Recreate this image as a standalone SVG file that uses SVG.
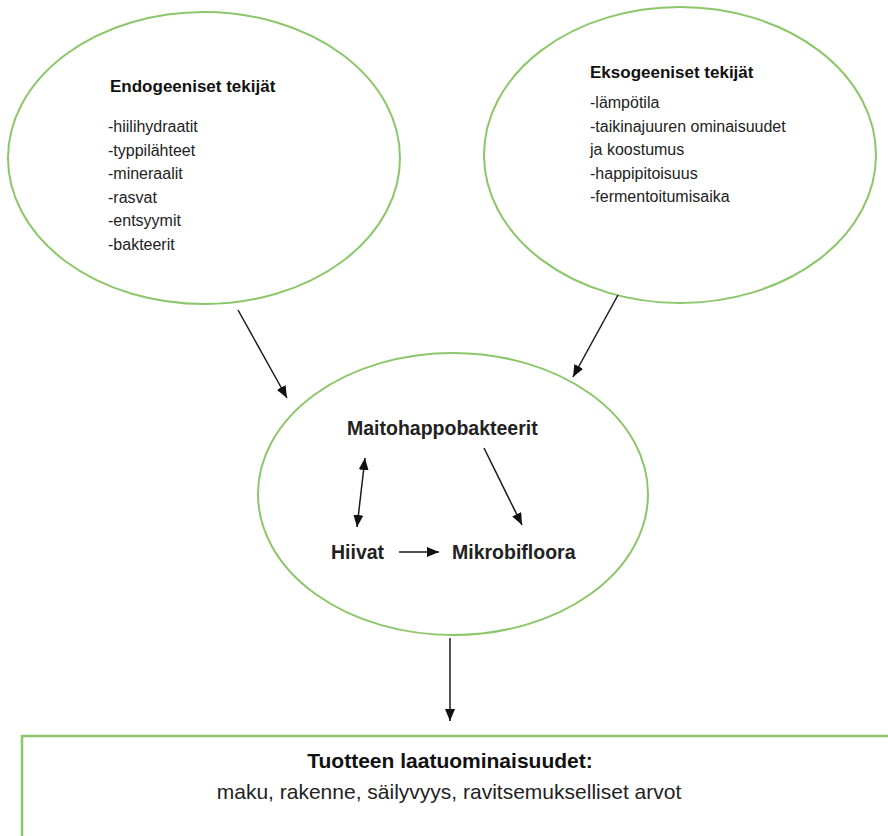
<svg xmlns="http://www.w3.org/2000/svg" width="888" height="836" viewBox="0 0 888 836">
<defs>
<style>
.oval{fill:#ffffff;stroke:#8cc66a;stroke-width:2}
.box{fill:#ffffff;stroke:#8cc66a;stroke-width:2.5}
.con{stroke:#1a1a1a;stroke-width:1.5;fill:none;marker-end:url(#ah)}
.hd{font-family:"Liberation Sans",Arial,sans-serif;font-weight:bold;font-size:17px;fill:#111}
.li{font-family:"Liberation Sans",Arial,sans-serif;font-size:16px;fill:#222}
.mid{font-family:"Liberation Sans",Arial,sans-serif;font-weight:bold;font-size:19.5px;fill:#222}
.bt{font-family:"Liberation Sans",Arial,sans-serif;font-weight:bold;font-size:21px;fill:#111}
.bl{font-family:"Liberation Sans",Arial,sans-serif;font-size:21px;fill:#222}
</style>
<marker id="ah" viewBox="0 0 12 10" refX="12" refY="5" markerWidth="12" markerHeight="10" markerUnits="userSpaceOnUse" orient="auto-start-reverse">
<path d="M0,0 L12,5 L0,10 Z" fill="#111"/>
</marker>
</defs>
<rect width="888" height="836" fill="#ffffff"/>

<g id="endo">
<ellipse class="oval" cx="204" cy="158" rx="196" ry="146"/>
<text class="hd" x="110" y="92">Endogeeniset tekijät</text>
<text class="li" x="108" y="132">-hiilihydraatit</text>
<text class="li" x="108" y="155.5">-typpilähteet</text>
<text class="li" x="108" y="179">-mineraalit</text>
<text class="li" x="108" y="202.5">-rasvat</text>
<text class="li" x="108" y="226">-entsyymit</text>
<text class="li" x="108" y="249.5">-bakteerit</text>
</g>

<g id="ekso">
<ellipse class="oval" cx="680" cy="155" rx="196" ry="148"/>
<text class="hd" x="590" y="78">Eksogeeniset tekijät</text>
<text class="li" x="590" y="108">-lämpötila</text>
<text class="li" x="590" y="131.5">-taikinajuuren ominaisuudet</text>
<text class="li" x="590" y="155">ja koostumus</text>
<text class="li" x="590" y="178.5">-happipitoisuus</text>
<text class="li" x="590" y="202">-fermentoitumisaika</text>
</g>

<g id="mikro">
<ellipse class="oval" cx="453" cy="494" rx="195" ry="141"/>
<text class="mid" x="347" y="435">Maitohappobakteerit</text>
<text class="mid" x="331" y="559">Hiivat</text>
<text class="mid" x="452" y="559">Mikrobifloora</text>
</g>

<g id="laatu">
<rect class="box" x="22" y="736" width="880" height="120"/>
<text class="bt" x="450" y="768" text-anchor="middle">Tuotteen laatuominaisuudet:</text>
<text class="bl" x="449" y="799" text-anchor="middle">maku, rakenne, säilyvyys, ravitsemukselliset arvot</text>
</g>

<g id="connectors">
<line class="con" x1="238" y1="310" x2="287" y2="398"/>
<line class="con" x1="618" y1="295" x2="573" y2="377"/>
<line class="con" x1="365" y1="458" x2="357" y2="527" marker-start="url(#ah)"/>
<line class="con" x1="484" y1="448" x2="522" y2="525"/>
<line class="con" x1="399" y1="552" x2="439" y2="552"/>
<line class="con" x1="450" y1="638" x2="450" y2="721"/>
</g>
</svg>
